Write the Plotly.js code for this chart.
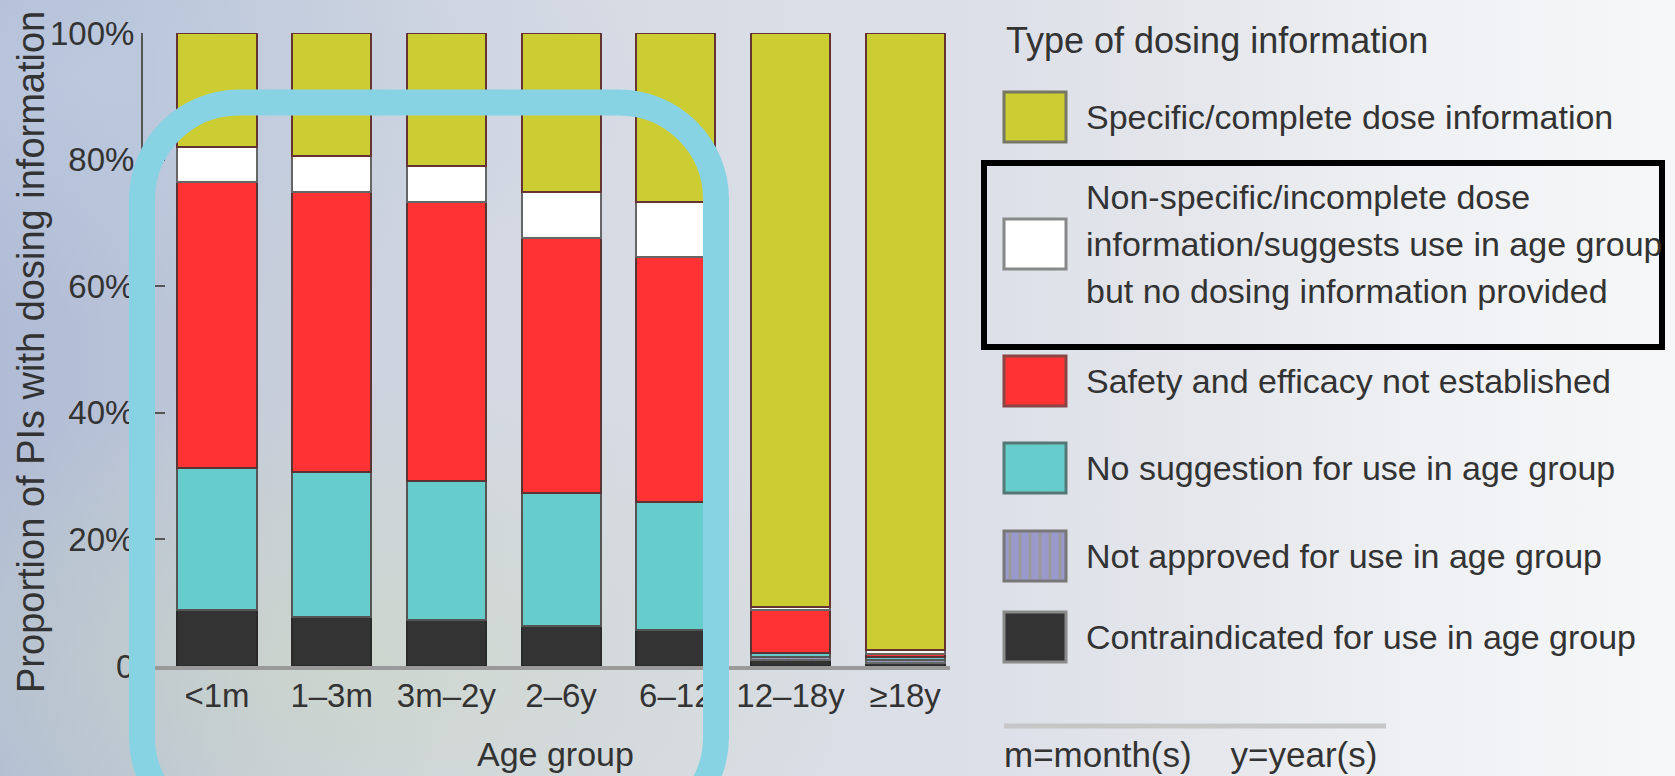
<!DOCTYPE html>
<html>
<head>
<meta charset="utf-8">
<script src="https://cdn.plot.ly/plotly-3.0.1.min.js"></script>
<style>
  html, body { margin: 0; padding: 0; }
  body {
    width: 1675px; height: 776px; overflow: hidden;
    background:
      radial-gradient(ellipse at 20% 85%, rgba(205,216,192,0.55), rgba(205,216,192,0) 30%),
      radial-gradient(ellipse at 5% 10%, rgba(190,205,225,0.6), rgba(190,205,225,0) 25%),
      linear-gradient(90deg, #b0bbd6 0%, #b8c2d7 8%, #c6cddb 16%, #d3d8e2 28%, #d9dde6 45%, #dde0e8 60%, #e5e7ec 72%, #f0f1f4 86%, #f6f7f8 100%);
  }
  #chart { width: 1675px; height: 776px; }
</style>
</head>
<body>
<div id="chart"></div>
<script>
// ---- data (percent of PIs in each age group) ----
const categories = ['<1m', '1–3m', '3m–2y', '2–6y', '6–12', '12–18y', '≥18y'];
const contraindicated      = [8.8, 7.7, 7.3, 6.3, 5.7, 0.9, 0.5];
const notApproved          = [0, 0, 0, 0, 0, 0.5, 0.4];
const noSuggestion         = [22.5, 22.9, 21.9, 21.0, 20.2, 0.6, 0.6];
const safetyNotEstablished = [45.2, 44.3, 44.1, 40.3, 38.7, 6.8, 0.4];
const nonSpecific          = [5.5, 5.7, 5.7, 7.3, 8.7, 0.6, 0.6];
const specific             = [18.0, 19.4, 21.0, 25.1, 26.7, 90.6, 97.5];

const yTickVals = [0, 20, 40, 60, 80, 100];
const yTickText = ['0', '20%', '40%', '60%', '80%', '100%'];

const legendTitle = 'Type of dosing information';
const legendLabels = [
  'Specific/complete dose information',
  'Non-specific/incomplete dose<br>information/suggests use in age group<br>but no dosing information provided',
  'Safety and efficacy not established',
  'No suggestion for use in age group',
  'Not approved for use in age group',
  'Contraindicated for use in age group'
];
const footnote = 'm=month(s)    y=year(s)';

// ---- layout geometry ----
const W = 1675, H = 776;
const M = { l: 143, r: 719, t: 33, b: 110 };
const PW = W - M.l - M.r, PH = H - M.t - M.b;
const px = x => (x - M.l) / PW;
const py = y => (H - M.b - y) / PH;

const FONT = 'Liberation Sans, Arial, Helvetica, sans-serif';
const TXT = '#333333';

function barTrace(name, vals, color, lineColor, pattern) {
  const t = {
    type: 'bar', name: name, x: categories, y: vals,
    marker: { color: color, line: { color: lineColor, width: 2 } },
    hoverinfo: 'name+y', showlegend: false
  };
  if (pattern) t.marker.pattern = pattern;
  return t;
}

const traces = [
  barTrace('Contraindicated', contraindicated, '#333333', '#2a2a2a'),
  barTrace('Not approved', notApproved, '#9999cc', '#666666',
           { shape: '|', fgcolor: '#999999', bgcolor: '#9999cc', size: 6, solidity: 0.4 }),
  barTrace('No suggestion', noSuggestion, '#66cccc', '#555555'),
  barTrace('Safety and efficacy not established', safetyNotEstablished, '#ff3333', '#5a3333'),
  barTrace('Non-specific', nonSpecific, '#ffffff', '#666666'),
  barTrace('Specific', specific, '#cccc33', '#663333')
];

// rounded highlight rectangle (pixel coords -> paper)
function roundRectPath(x1, y1, x2, y2, r) {
  const k = 0.5523 * r;
  const P = (x, y) => px(x).toFixed(5) + ',' + py(y).toFixed(5);
  return 'M' + P(x1 + r, y1) +
    ' L' + P(x2 - r, y1) +
    ' C' + P(x2 - r + k, y1) + ' ' + P(x2, y1 + r - k) + ' ' + P(x2, y1 + r) +
    ' L' + P(x2, y2 - r) +
    ' C' + P(x2, y2 - r + k) + ' ' + P(x2 - r + k, y2) + ' ' + P(x2 - r, y2) +
    ' L' + P(x1 + r, y2) +
    ' C' + P(x1 + r - k, y2) + ' ' + P(x1, y2 - r + k) + ' ' + P(x1, y2 - r) +
    ' L' + P(x1, y1 + r) +
    ' C' + P(x1, y1 + r - k) + ' ' + P(x1 + r - k, y1) + ' ' + P(x1 + r, y1) + ' Z';
}

const shapes = [];
const annotations = [];

// baseline
shapes.push({ type: 'line', xref: 'paper', yref: 'paper', x0: px(155), x1: px(950), y0: py(668), y1: py(668),
  line: { color: '#9a9a9a', width: 4 }, layer: 'above' });

// legend
const swX0 = 1004, swX1 = 1066, swH = 50, textX = 1084;
const swCenters = [117, 244, 381, 468, 556, 637];
const swFill = ['#cccc33', '#ffffff', '#ff3333', '#66cccc', '#9999cc', '#333333'];
const swLine = ['#777766', '#888888', '#8a4444', '#557777', '#777777', '#8a8a8a'];
const LFS = 34;
swCenters.forEach((cy, i) => {
  shapes.push({ type: 'rect', xref: 'paper', yref: 'paper',
    x0: px(swX0), x1: px(swX1), y0: py(cy + swH / 2), y1: py(cy - swH / 2),
    fillcolor: swFill[i], line: { color: swLine[i], width: 3 } });
  const lines = legendLabels[i].split('<br>');
  const gap = 47;
  lines.forEach((ln, j) => {
    const ly = cy + (j - (lines.length - 1) / 2) * gap;
    annotations.push({ xref: 'paper', yref: 'paper', x: px(textX), y: py(ly),
      xanchor: 'left', yanchor: 'middle', align: 'left', showarrow: false,
      text: ln, font: { family: FONT, size: LFS, color: TXT } });
  });
});
// stripes on the "not approved" swatch
for (let k = 0; k < 6; k++) {
  const sx = swX0 + 6 + k * 10;
  shapes.push({ type: 'line', xref: 'paper', yref: 'paper', x0: px(sx), x1: px(sx),
    y0: py(556 + swH / 2 - 2), y1: py(556 - swH / 2 + 2), line: { color: '#9a9a9a', width: 3 } });
}
// legend title
annotations.push({ xref: 'paper', yref: 'paper', x: px(1004), y: py(40), xanchor: 'left', yanchor: 'middle',
  showarrow: false, text: legendTitle, font: { family: FONT, size: 36, color: TXT } });
// separator + footnote
shapes.push({ type: 'line', xref: 'paper', yref: 'paper', x0: px(1004), x1: px(1386), y0: py(726), y1: py(726),
  line: { color: '#c6c6c6', width: 5 } });
annotations.push({ xref: 'paper', yref: 'paper', x: px(1002), y: py(754), xanchor: 'left', yanchor: 'middle',
  showarrow: false, text: footnote, font: { family: FONT, size: 35, color: TXT } });

// black highlight box around the second legend entry
shapes.push({ type: 'rect', xref: 'paper', yref: 'paper', x0: px(984), x1: px(1662), y0: py(347), y1: py(163),
  line: { color: '#000000', width: 6 }, fillcolor: 'rgba(0,0,0,0)', layer: 'above' });

// light-blue rounded highlight
shapes.push({ type: 'path', xref: 'paper', yref: 'paper', path: roundRectPath(142, 102.5, 716, 834, 97),
  line: { color: '#88d3e3', width: 26 }, fillcolor: 'rgba(0,0,0,0)', layer: 'above' });

// axis titles
annotations.push({ xref: 'paper', yref: 'paper', x: px(555), y: py(754), xanchor: 'center', yanchor: 'middle',
  showarrow: false, text: 'Age group', font: { family: FONT, size: 34, color: TXT } });
annotations.push({ xref: 'paper', yref: 'paper', x: px(31), y: py(352), xanchor: 'center', yanchor: 'middle',
  textangle: -90, showarrow: false, text: 'Proportion of PIs with dosing information',
  font: { family: FONT, size: 38, color: TXT } });

const layout = {
  width: W, height: H,
  margin: M,
  paper_bgcolor: 'rgba(0,0,0,0)', plot_bgcolor: 'rgba(0,0,0,0)',
  barmode: 'stack', bargap: 0.31,
  showlegend: false,
  font: { family: FONT, color: TXT },
  xaxis: {
    type: 'category', range: [-0.645, 6.443], fixedrange: true,
    showgrid: false, zeroline: false, showline: false, ticks: '',
    tickfont: { family: FONT, size: 33, color: TXT }, ticklabelstandoff: 7
  },
  yaxis: {
    range: [0, 100], fixedrange: true, showgrid: false, zeroline: false,
    showline: true, linecolor: '#555555', linewidth: 2,
    ticks: 'inside', ticklen: 22, tickwidth: 2, tickcolor: '#555555',
    tickvals: yTickVals, ticktext: yTickText,
    tickfont: { family: FONT, size: 33, color: TXT }
  },
  shapes: shapes,
  annotations: annotations
};

Plotly.newPlot('chart', traces, layout, { displayModeBar: false, staticPlot: true });
</script>
</body>
</html>
